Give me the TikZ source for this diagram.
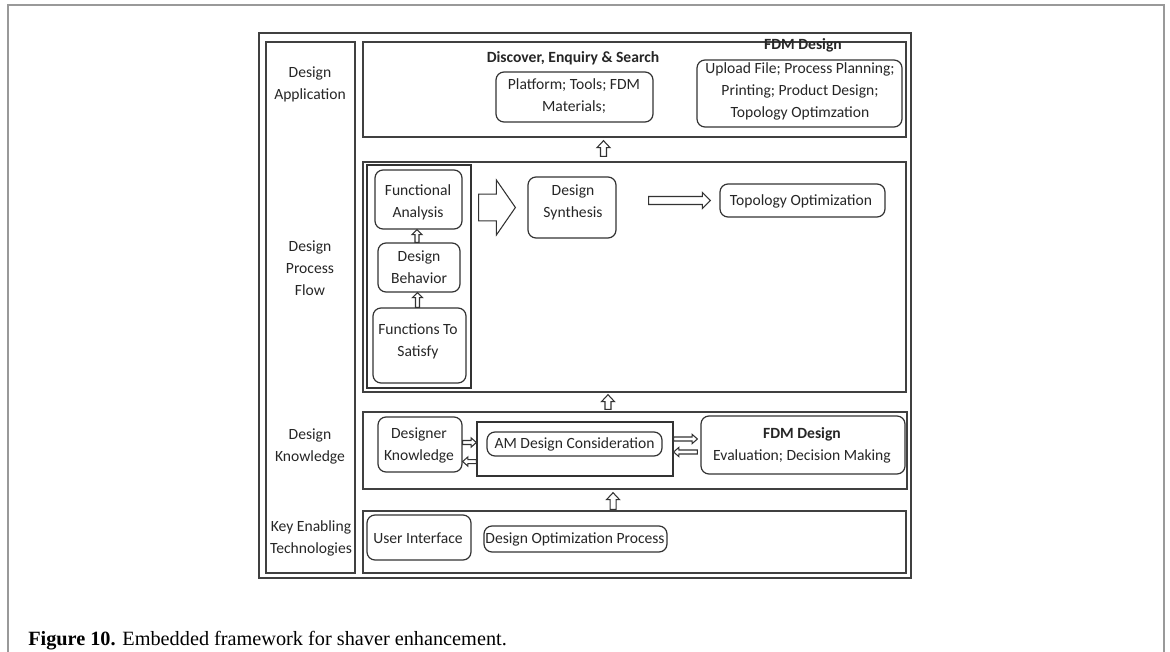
\documentclass[tikz,border=0pt]{standalone}
\usepackage{fontspec}
\setmainfont{Carlito}
\newfontfamily\capfont{Liberation Serif}
\usetikzlibrary{calc,fit}
\begin{document}
\begin{tikzpicture}[x=0.75pt,y=-0.75pt,
  every node/.style={font=\fontsize{11.7}{16.5}\selectfont, text=black!85, align=center, inner sep=0pt},
  title/.style={font=\fontsize{11.7}{16.5}\selectfont\bfseries},
  frame/.style={draw=black!75, line width=1.1pt},
  lane/.style={draw=black!75, line width=1pt},
  box/.style={draw=black!80, line width=0.9pt, rounded corners=6pt},
  plainbox/.style={draw=black!80, line width=0.9pt},
  arrow dims/.code args={#1/#2/#3}{\def\arsh{#1}\def\arhd{#2}\def\arln{#3}},
  blockarrow/.style={draw=black!80, line width=0.8pt, fill=white, arrow dims=#1},
  upblock/.style={blockarrow=#1, to path={let \p1=(\tikztostart), \p2=(\tikztotarget) in
    (\x1-\arsh,\y1) -- (\x1-\arsh,\y2-\arln) -- (\x1-\arhd,\y2-\arln) -- (\x1,\y2)
    -- (\x1+\arhd,\y2-\arln) -- (\x1+\arsh,\y2-\arln) -- (\x1+\arsh,\y1) -- cycle}},
  rightblock/.style={blockarrow=#1, to path={let \p1=(\tikztostart), \p2=(\tikztotarget) in
    (\x1,\y1+\arsh) -- (\x2-\arln,\y1+\arsh) -- (\x2-\arln,\y1+\arhd) -- (\x2,\y1)
    -- (\x2-\arln,\y1-\arhd) -- (\x2-\arln,\y1-\arsh) -- (\x1,\y1-\arsh) -- cycle}},
  leftblock/.style={blockarrow=#1, to path={let \p1=(\tikztostart), \p2=(\tikztotarget) in
    (\x1,\y1+\arsh) -- (\x2+\arln,\y1+\arsh) -- (\x2+\arln,\y1+\arhd) -- (\x2,\y1)
    -- (\x2+\arln,\y1-\arhd) -- (\x2+\arln,\y1-\arsh) -- (\x1,\y1-\arsh) -- cycle}}]
\useasboundingbox (0,0) rectangle (1170,652);
\draw[line width=1.5pt, draw=black!40] (8,652) -- (8,5) -- (1164,5) -- (1164,652);

\node[frame, fit={(259,33) (911,578)}] (outer) {};
\node[frame, fit={(266,42) (355,573)}] (side) {};
\node[lane, fit={(363,42) (906,137)}] (app) {};
\node[lane, fit={(363,162) (906,392)}] (flow) {};
\node[lane, fit={(363,412) (907,489)}] (know) {};
\node[lane, fit={(363,511) (906,573)}] (tech) {};

\node (appl) at (310,84) {Design\\Application};
\node (flowl) at (310,268) {Design\\Process\\Flow};
\node (knowl) at (310,446) {Design\\Knowledge};
\node (techl) at (311,538) {Key Enabling\\Technologies};

\node[title] (discl) at (573,58) {Discover, Enquiry \& Search};
\node[box, fit={(496,72) (653,122)}] (platform) {};
\node (platformt) at (574,96) {Platform; Tools; FDM\\Materials;};
\node[title] (fdml) at (803,45) {FDM Design};
\node[box, fit={(697,60) (902,127)}] (upload) {};
\node (uploadt) at (800,91) {Upload File; Process Planning;\\Printing; Product Design;\\Topology Optimzation};

\node[plainbox, fit={(367,165) (471,388)}] (stack) {};
\node[box, fit={(375,170) (462,229)}] (funan) {};
\node (funant) at (418,202) {Functional\\Analysis};
\node[box, fit={(378,243) (460,292)}] (behav) {};
\node (behavt) at (419,267.5) {Design\\Behavior};
\node[box, fit={(373,308) (466,383)}] (funsat) {};
\node (funsatt) at (418,341.5) {Functions To\\Satisfy};
\node[box, fit={(528,177) (616,238)}] (synth) {};
\node (syntht) at (573,202.5) {Design\\Synthesis};
\node[box, fit={(720,184) (885,217)}] (topo) {};
\node (topot) at (801,201) {Topology Optimization};

\draw[upblock=1.5pt/3.75pt/3.75pt] ([xshift=-1.5pt]behav.north) to ([xshift=-1.5pt]funan.south);
\draw[upblock=1.5pt/3.75pt/3.75pt] ([xshift=-1.5pt]funsat.north) to ([xshift=-1.5pt]behav.south);
\draw[rightblock=10pt/20.6pt/14.25pt] ([xshift=5.25pt]stack.east |- synth.west) to ([xshift=-9pt]synth.west);
\draw[rightblock=3pt/6pt/6pt] ([xshift=24pt]synth.east |- topo.west) to ([xshift=-6.75pt]topo.west);

\node[box, fit={(378,417) (462,472)}] (dknow) {};
\node (dknowt) at (419,445.5) {Designer\\Knowledge};
\node[plainbox, fit={(477,422) (673,476)}] (amframe) {};
\node[box, fit={(487,432) (662,456)}] (amcons) {};
\node (amconst) at (574.5,444.5) {AM Design Consideration};
\node[box, fit={(701,416) (905,474)}] (fdmeval) {};
\node (fdmevalt) at (802,445.5) {\textbf{FDM Design}\\Evaluation; Decision Making};

\draw[rightblock=1.5pt/3.5pt/4pt] ([yshift=1.5pt]dknow.east) to ([yshift=1.5pt]dknow.east -| amframe.west);
\draw[leftblock=1.5pt/3.5pt/4pt] ([yshift=-9.4pt]amframe.west) to ([yshift=-9.4pt]amframe.west -| dknow.east);
\draw[rightblock=1.5pt/3.5pt/4pt] ([yshift=7.5pt]amframe.east) to ([xshift=-2.25pt,yshift=7.5pt]amframe.east -| fdmeval.west);
\draw[leftblock=1.5pt/3.5pt/4pt] ([xshift=-2.25pt,yshift=-2.25pt]amframe.east -| fdmeval.west) to ([yshift=-2.25pt]amframe.east);

\node[box, fit={(367,515) (471,560)}] (ui) {};
\node (uit) at (418,538) {User Interface};
\node[box, fit={(484,526) (667,552)}] (dop) {};
\node (dopt) at (575,539) {Design Optimization Process};

\draw[upblock=2.25pt/4.9pt/5.25pt] ([xshift=-23.25pt,yshift=3.75pt]flow.north) to ([xshift=-23.25pt,yshift=-2.25pt]app.south);
\draw[upblock=2.25pt/4.9pt/5.25pt] ([xshift=-20.25pt,yshift=1.5pt]know.north) to ([xshift=-20.25pt,yshift=-1.5pt]flow.south);
\draw[upblock=2.25pt/4.9pt/5.25pt] ([xshift=-16.1pt,yshift=0.75pt]tech.north) to ([xshift=-16.1pt,yshift=-2.25pt]know.south);

\node[anchor=west, font=\capfont\fontsize{15.2}{18}\selectfont, text=black] (caption) at (28,641) {\textbf{Figure 10.} Embedded framework for shaver enhancement.};
\end{tikzpicture}
\end{document}
